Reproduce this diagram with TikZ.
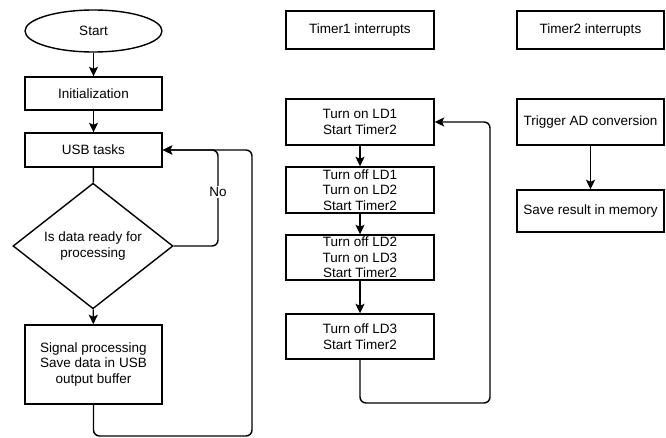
\documentclass[tikz,border=0pt]{standalone}
\usepackage{fontspec}
\setmainfont{Liberation Sans}
\usetikzlibrary{shapes.geometric,arrows.meta}
\begin{document}
\begin{tikzpicture}[x=1pt,y=-1pt,
  every node/.style={font=\fontsize{13.5}{15.5}\selectfont, inner sep=0pt, align=center, line width=1.4pt},
  box/.style={draw, rectangle, minimum width=#1},
  box/.default=137,
  conn/.style={line width=1.4pt, rounded corners=6pt},
  arr/.style={conn, -{Stealth[length=9.5pt,width=9pt,inset=2pt]}}]
\useasboundingbox (0,0) rectangle (666,438);
% left column
\node[draw, ellipse, minimum width=137, minimum height=42] (start) at (93.5,31) {Start};
\node[box, minimum height=33] (init) at (93.5,93.5) {Initialization};
\node[box, minimum height=34] (usb) at (93.5,150) {USB tasks};
\node[draw, diamond, minimum width=160, minimum height=91] (dec) at (93,246) {Is data ready for\\processing};
\node[box, minimum height=79] (sig) at (93.5,364.5) {Signal processing\\Save data in USB\\output buffer};
\coordinate (n1) at (218,246);
\coordinate (n2) at (218,150);
\coordinate (l1) at (93.5,436);
\coordinate (l2) at (252,436);
\coordinate (l3) at (252,150);
\draw[arr] (start) -- (init);
\draw[arr] (init) -- (usb);
\draw[conn] (usb) -- (dec);
\draw[arr] (dec) -- (sig);
\draw[arr] (dec.east) -- (n1) -- (n2) -- (usb.east);
\draw[arr] (sig.south) -- (l1) -- (l2) -- (l3) -- (usb.east);
\node[fill=white, inner sep=1.5pt] (no) at (218,192) {No};
% middle column
\node[box=148, minimum height=38] (t1) at (360,30) {Timer1 interrupts};
\node[box=148, minimum height=46] (ld1) at (360,122) {Turn on LD1\\Start Timer2};
\node[box=148, minimum height=46] (ld2) at (360,190) {Turn off LD1\\Turn on LD2\\Start Timer2};
\node[box=148, minimum height=45] (ld3) at (360,257.5) {Turn off LD2\\Turn on LD3\\Start Timer2};
\node[box=148, minimum height=45] (ld4) at (360,336.5) {Turn off LD3\\Start Timer2};
\coordinate (m1) at (360,403);
\coordinate (m2) at (490,403);
\coordinate (m3) at (490,122);
\draw[arr] (ld1) -- (ld2);
\draw[arr] (ld2) -- (ld3);
\draw[arr] (ld3) -- (ld4);
\draw[arr] (ld4.south) -- (m1) -- (m2) -- (m3) -- (ld1.east);
% right column
\node[box=147, minimum height=38] (t2) at (590.5,30) {Timer2 interrupts};
\node[box=147, minimum height=46] (ad) at (590.5,122) {Trigger AD conversion};
\node[box=147, minimum height=42] (save) at (590.5,211) {Save result in memory};
\draw[arr] (ad) -- (save);
\end{tikzpicture}
\end{document}
